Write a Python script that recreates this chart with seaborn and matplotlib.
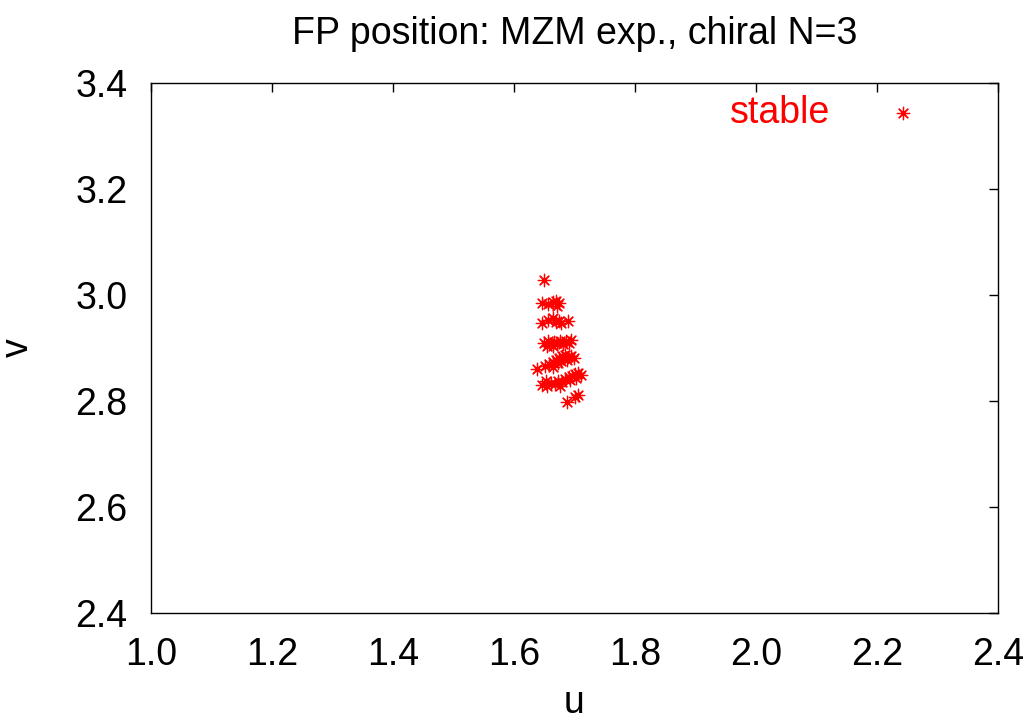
#!/usr/bin/env python3
"""Fixed point positions, MZM exp., chiral N=3
"""

import pandas as pd
import matplotlib
matplotlib.use("Agg")
import matplotlib.pyplot as plt
import seaborn as sns

# stable fixed points (u, v)
u_vals = [
    1.650,
    1.646, 1.656, 1.664, 1.669, 1.671, 1.674,
    1.646, 1.656, 1.664, 1.669, 1.674, 1.678, 1.689,
    1.650, 1.656, 1.661, 1.666, 1.671, 1.676, 1.681, 1.686, 1.691, 1.694,
    1.655, 1.664,
    1.638, 1.651, 1.658, 1.664, 1.669, 1.674, 1.679, 1.684, 1.689, 1.694,
    1.699, 1.678, 1.688, 1.664, 1.673,
    1.646, 1.655, 1.661, 1.668, 1.673, 1.679, 1.684, 1.691, 1.696, 1.701,
    1.706, 1.711, 1.653, 1.676, 1.693, 1.702,
    1.688, 1.701, 1.706,
]
v_vals = [
    3.028,
    2.985, 2.983, 2.987, 2.989, 2.979, 2.985,
    2.947, 2.953, 2.957, 2.949, 2.951, 2.947, 2.951,
    2.909, 2.913, 2.908, 2.911, 2.909, 2.913, 2.908, 2.913, 2.909, 2.915,
    2.904, 2.904,
    2.860, 2.866, 2.870, 2.874, 2.877, 2.881, 2.885, 2.887, 2.883, 2.885,
    2.881, 2.875, 2.877, 2.864, 2.872,
    2.830, 2.828, 2.834, 2.832, 2.838, 2.836, 2.842, 2.845, 2.847, 2.851,
    2.853, 2.849, 2.838, 2.828, 2.840, 2.843,
    2.798, 2.808, 2.811,
]

x_ticks = [1.0, 1.2, 1.4, 1.6, 1.8, 2.0, 2.2, 2.4]
y_ticks = [2.4, 2.6, 2.8, 3.0, 3.2, 3.4]


def main():
    sns.set_theme(style="white", rc={"text.color": "black",
                                     "axes.labelcolor": "black",
                                     "xtick.color": "black",
                                     "ytick.color": "black"})
    plt.rcParams["font.family"] = ["Liberation Sans", "DejaVu Sans"]

    df = pd.DataFrame({"u": u_vals, "v": v_vals})

    fig = plt.figure(figsize=(10.29, 7.26), dpi=100)
    ax = fig.add_axes([0.1467, 0.1556, 0.8232, 0.7301])

    sns.scatterplot(data=df, x="u", y="v", ax=ax, color="red",
                    marker=(8, 2, 0), s=80, linewidth=0.9, label="stable")

    ax.set_xlim(1.0, 2.4)
    ax.set_ylim(2.4, 3.4)
    ax.set_xticks(x_ticks)
    ax.set_yticks(y_ticks)
    ax.set_xticklabels([f"{t:.1f}" for t in x_ticks])
    ax.set_yticklabels([f"{t:.1f}" for t in y_ticks])
    ax.tick_params(direction="in", length=6.5, width=1.0, colors="black",
                   labelsize=27, top=True, right=True)
    ax.tick_params(axis="x", pad=17)
    ax.tick_params(axis="y", pad=17)
    for sp in ax.spines.values():
        sp.set_color("black")
        sp.set_linewidth(1.0)

    ax.set_xlabel("u", fontsize=27, labelpad=9)
    ax.set_ylabel("v", fontsize=27, labelpad=28)
    ax.set_title("FP position: MZM exp., chiral N=3", fontsize=27, pad=28)

    ax.legend(loc="upper right", frameon=False, markerfirst=False,
              labelcolor="red", fontsize=27, handlelength=1.5,
              handletextpad=1.2, borderaxespad=0.0,
              bbox_to_anchor=(0.939, 1.0055))

    fig.savefig("out.png", dpi=100)


if __name__ == '__main__':
    main()
